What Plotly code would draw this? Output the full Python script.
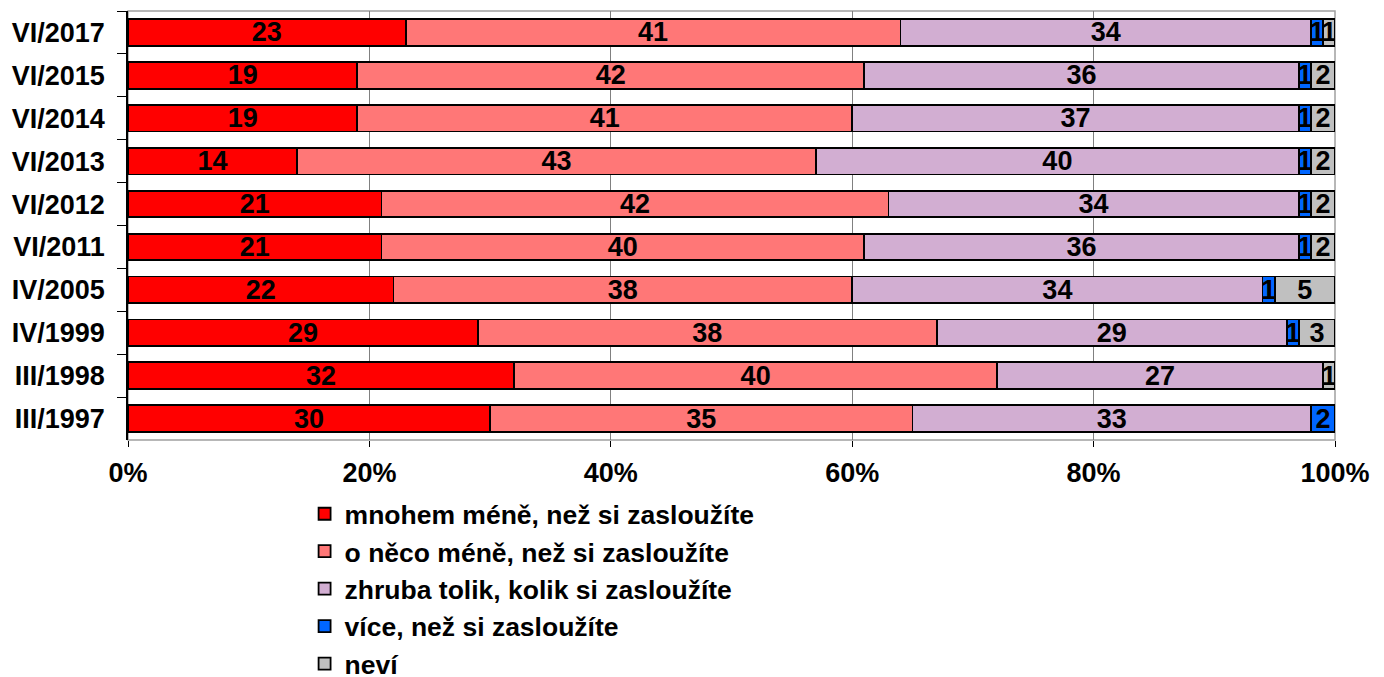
import plotly.graph_objects as go

categories = ["VI/2017", "VI/2015", "VI/2014", "VI/2013", "VI/2012",
              "VI/2011", "IV/2005", "IV/1999", "III/1998", "III/1997"]
much_less = [23, 19, 19, 14, 21, 21, 22, 29, 32, 30]
somewhat_less = [41, 42, 41, 43, 42, 40, 38, 38, 40, 35]
about_right = [34, 36, 37, 40, 34, 36, 34, 29, 27, 33]
more = [1, 1, 1, 1, 1, 1, 1, 1, None, 2]
dont_know = [1, 2, 2, 2, 2, 2, 5, 3, 1, None]

series_names = ["mnohem méně, než si zasloužíte",
                "o něco méně, než si zasloužíte",
                "zhruba tolik, kolik si zasloužíte",
                "více, než si zasloužíte",
                "neví"]
series_values = [much_less, somewhat_less, about_right, more, dont_know]
colors = ["#FF0000", "#FF7777", "#D2AED2", "#0066FF", "#C0C0C0"]

x_ticks = [0, 20, 40, 60, 80, 100]
x_tick_labels = ["0%", "20%", "40%", "60%", "80%", "100%"]

FONT = "Liberation Sans, Arial, sans-serif"
FS = 27

fig = go.Figure()
for name, vals, col in zip(series_names, series_values, colors):
    fig.add_trace(go.Bar(
        y=categories, x=vals, name=name, orientation="h",
        marker=dict(color=col, line=dict(color="black", width=1.8)),
        text=[str(v) if v else "" for v in vals],
        textposition="inside", insidetextanchor="middle", textangle=0,
        textfont=dict(family=FONT, size=FS, color="black", weight="bold"),
        legendgroup=name,
    ))

# page body adds an 8px offset, so the figure is drawn 8px smaller
fig.update_layout(
    barmode="stack", bargap=0.38,
    width=1376, height=669,
    margin=dict(l=120, r=49, t=3, b=237, autoexpand=False),
    paper_bgcolor="white", plot_bgcolor="white",
    font=dict(family=FONT, size=FS, color="black", weight="bold"),
    uniformtext=dict(minsize=FS, mode="show"),
    showlegend=True,
    legend=dict(orientation="v", x=0.1463, y=-0.1166, xanchor="left", yanchor="top",
                font=dict(family=FONT, size=26.5, color="black", weight="bold"),
                traceorder="normal", itemwidth=30, tracegroupgap=0,
                bgcolor="rgba(0,0,0,0)"),
    shapes=[dict(type="rect", xref="paper", yref="paper", x0=0, x1=1, y0=0, y1=1,
                 line=dict(color="#A0A0A0", width=1.5), layer="below")],
)
fig.update_xaxes(range=[0, 100], tickvals=x_ticks, ticktext=x_tick_labels,
                 showgrid=True, gridcolor="#808080", gridwidth=1,
                 zeroline=False, showline=False, automargin=False,
                 ticks="outside", ticklen=6, tickcolor="black",
                 ticklabelstandoff=3,
                 tickfont=dict(family=FONT, size=FS, color="black", weight="bold"))
fig.update_yaxes(categoryorder="array", categoryarray=categories, autorange="reversed",
                 showline=True, linecolor="black", linewidth=1.5, automargin=False,
                 ticks="outside", tickson="boundaries", ticklen=9, tickcolor="black",
                 ticklabelstandoff=16,
                 showgrid=False,
                 tickfont=dict(family=FONT, size=FS, color="black", weight="bold"))

fig.write_html("out.html")
